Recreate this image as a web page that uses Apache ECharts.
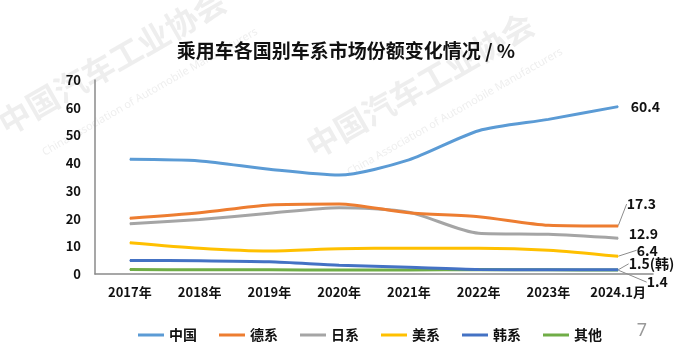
<!DOCTYPE html>
<html><head><meta charset="utf-8">
<script src="https://cdn.jsdelivr.net/npm/echarts@6/dist/echarts.min.js"></script>
<style>html,body{margin:0;padding:0;background:#fff}#c{width:692px;height:346px}</style>
</head><body><div id="c"></div>
<script>
const categories = ['2017年','2018年','2019年','2020年','2021年','2022年','2023年','2024.1月'];
const seriesNames = ['中国','德系','日系','美系','韩系','其他'];
const china   = [41.4, 40.8, 37.8, 35.7, 41.2, 51.7, 55.8, 60.4];
const german  = [20.1, 22.1, 24.9, 25.3, 22.1, 20.7, 17.6, 17.3];
const japan   = [18.1, 19.7, 21.9, 23.9, 22.3, 14.7, 14.3, 12.9];
const usa     = [11.3, 9.3, 8.3, 9.1, 9.3, 9.3, 8.6, 6.4];
const korea   = [4.9, 4.8, 4.4, 3.2, 2.4, 1.6, 1.5, 1.5];
const others  = [1.6, 1.5, 1.5, 1.4, 1.4, 1.6, 1.5, 1.4];
const endLabels = ['60.4','17.3','12.9','6.4','1.5(韩)','1.4'];
const yTicks = [0, 70, 10];

const colors = ['#5B9BD5','#ED7D31','#A5A5A5','#FFC000','#4472C4','#70AD47'];
const values = [china, german, japan, usa, korea, others];
const layouts = [
  {dx: 8, dy: 0, line: false},
  {dx: 4, dy: -22, line: true},
  {dx: 6, dy: -5, line: false},
  {dx: 14, dy: -6, line: true},
  {dx: 6, dy: -6, line: true},
  {dx: 24, dy: 12, line: true}
];
const FONT = '"Noto Sans CJK SC", "Noto Sans", sans-serif';

const chart = echarts.init(document.getElementById('c'));
const series = values.map((vals, si) => ({
  name: seriesNames[si],
  type: 'line',
  smooth: 0.25,
  symbol: 'circle',
  symbolSize: 1,
  showSymbol: true,
  z: 10 - si,
  lineStyle: {width: 3, color: colors[si]},
  itemStyle: {color: colors[si]},
  label: {
    show: false,
    position: 'right',
    distance: 4,
    formatter: () => endLabels[si],
    color: '#111',
    fontWeight: 'bold',
    fontSize: 14,
    fontFamily: FONT
  },
  labelLine: {show: layouts[si].line, lineStyle: {color: '#8c8c8c', width: 1}},
  labelLayout: {dx: layouts[si].dx, dy: layouts[si].dy},
  data: vals.map((v, i) => i === vals.length - 1 ? {value: v, label: {show: true}} : v)
}));

const wm = 'rgba(170,170,170,0.2)';
chart.setOption({
  animation: false,
  color: colors,
  title: {
    text: '乘用车各国别车系市场份额变化情况 / %',
    left: 'center', top: 36,
    textStyle: {fontSize: 19, fontWeight: 'bold', color: '#111', fontFamily: FONT}
  },
  graphic: [
    {type: 'text', x: 112, y: 62, rotation: 0.52, z: -1, style: {text: '中国汽车工业协会', fill: wm, align: 'center', verticalAlign: 'middle', font: 'bold 32px "Noto Sans CJK SC"'}},
    {type: 'text', x: 150, y: 92, rotation: 0.52, z: -1, style: {text: 'China Association of Automobile Manufacturers', fill: wm, align: 'center', verticalAlign: 'middle', font: '11px "Noto Sans"'}},
    {type: 'text', x: 420, y: 85, rotation: 0.52, z: -1, style: {text: '中国汽车工业协会', fill: wm, align: 'center', verticalAlign: 'middle', font: 'bold 32px "Noto Sans CJK SC"'}},
    {type: 'text', x: 455, y: 112, rotation: 0.52, z: -1, style: {text: 'China Association of Automobile Manufacturers', fill: wm, align: 'center', verticalAlign: 'middle', font: '11px "Noto Sans"'}},
    {type: 'text', right: 45, top: 322, style: {text: '7', fill: '#999', font: '18px "Noto Sans"'}}
  ],
  legend: {
    data: seriesNames,
    left: 133, top: 323,
    itemWidth: 26, itemHeight: 3, itemGap: 22,
    icon: 'rect',
    textStyle: {fontSize: 14, fontWeight: 'bold', color: '#111', fontFamily: FONT}
  },
  grid: {left: 95, right: 39, top: 80, bottom: 72, containLabel: false},
  xAxis: {
    type: 'category',
    data: categories,
    boundaryGap: true,
    axisTick: {show: false},
    axisLine: {lineStyle: {color: '#8a8a8a', width: 1.5}},
    axisLabel: {interval: 0, color: '#111', fontWeight: 'bold', fontSize: 13, margin: 12, fontFamily: FONT}
  },
  yAxis: {
    type: 'value',
    min: yTicks[0], max: yTicks[1], interval: yTicks[2],
    axisLine: {show: true, lineStyle: {color: '#8a8a8a', width: 1.5}},
    axisTick: {show: false},
    splitLine: {show: false},
    axisLabel: {color: '#111', fontWeight: 'bold', fontSize: 13, margin: 14, fontFamily: FONT}
  },
  series: series
});
</script>
</body></html>
